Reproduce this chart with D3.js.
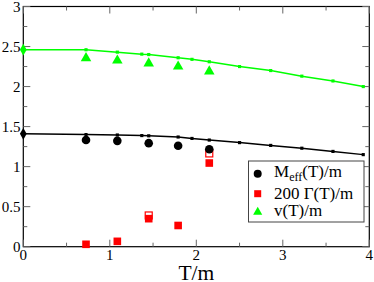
<!DOCTYPE html>
<html><head><meta charset="utf-8">
<script src="https://cdn.jsdelivr.net/npm/d3@7"></script>
<style>body{margin:0;background:#fff}svg{display:block}
text{font-family:"Liberation Serif","Times New Roman","DejaVu Serif",serif}</style>
</head><body>
<script>
// Data
const lineT = [0, 0.725, 1.087, 1.37, 1.45, 1.79, 1.95, 2.15, 2.5, 2.86, 3.22, 3.58, 3.93];
const vLine = [2.46, 2.46, 2.43, 2.405, 2.40, 2.36, 2.34, 2.31, 2.25, 2.20, 2.13, 2.07, 2.00];
const mLine = [1.41, 1.40, 1.395, 1.388, 1.385, 1.37, 1.352, 1.332, 1.30, 1.265, 1.23, 1.19, 1.15];
const pointT = [0.725, 1.087, 1.45, 1.79, 2.15];
const mEff = [1.333, 1.322, 1.293, 1.26, 1.218];
const gamma200 = [0.03, 0.067, 0.35, 0.265, 1.045];
const vT = [2.355, 2.325, 2.29, 2.25, 2.19];
const gammaOpenT = [1.45, 2.15];
const gammaOpen = [0.39, 1.165];
const xTicks = [0, 1, 2, 3, 4];
const yTicks = [0, 0.5, 1, 1.5, 2, 2.5, 3];
const legendLabels = ["M", "200 Γ(T)/m", "v(T)/m"];

const W = 374, H = 282;
const x = d3.scaleLinear().domain([0, 4]).range([23.3, 369.3]);
const y = d3.scaleLinear().domain([0, 3]).range([246.7, 6.5]);
const svg = d3.select("body").append("svg").attr("width", W).attr("height", H);
const green = "#00ff00", red = "#ff0000";

// Frame
svg.append("rect").attr("x", x(0)).attr("y", y(3)).attr("width", x(4) - x(0)).attr("height", y(0) - y(3))
  .attr("fill", "none").attr("stroke", "#000").attr("stroke-width", 1.2);

// Ticks (inward, all four sides)
const tickG = svg.append("g").attr("stroke", "#666").attr("stroke-width", 1);
const xMinor = d3.range(0.5, 4, 1);
const yMinor = d3.range(0.25, 3, 0.5);
xTicks.forEach(t => { [[y(0), -7], [y(3), 7]].forEach(([yy, d]) => tickG.append("line").attr("x1", x(t)).attr("x2", x(t)).attr("y1", yy).attr("y2", yy + d)); });
xMinor.forEach(t => { [[y(0), -4], [y(3), 4]].forEach(([yy, d]) => tickG.append("line").attr("x1", x(t)).attr("x2", x(t)).attr("y1", yy).attr("y2", yy + d)); });
yTicks.forEach(t => { [[x(0), 7], [x(4), -7]].forEach(([xx, d]) => tickG.append("line").attr("y1", y(t)).attr("y2", y(t)).attr("x1", xx).attr("x2", xx + d)); });
yMinor.forEach(t => { [[x(0), 4], [x(4), -4]].forEach(([xx, d]) => tickG.append("line").attr("y1", y(t)).attr("y2", y(t)).attr("x1", xx).attr("x2", xx + d)); });

// Tick labels
svg.append("g").selectAll("text").data(xTicks).join("text")
  .attr("x", d => x(d)).attr("y", 260).attr("text-anchor", "middle")
  .attr("font-size", 15).text(d => d);
svg.append("g").selectAll("text").data(yTicks).join("text")
  .attr("x", 20.5).attr("y", d => y(d) + 5).attr("text-anchor", "end")
  .attr("font-size", 15).text(d => d);

// Axis label
svg.append("text").attr("x", (x(0) + x(4)) / 2).attr("y", 279.5).attr("text-anchor", "middle")
  .attr("font-size", 21.5).text("T/m");

// Lines
const lineGen = vals => d3.line().x((d, i) => x(lineT[i])).y(d => y(d))(vals);
svg.append("path").attr("d", lineGen(vLine)).attr("fill", "none").attr("stroke", green).attr("stroke-width", 1.5);
svg.append("path").attr("d", lineGen(mLine)).attr("fill", "none").attr("stroke", "#000").attr("stroke-width", 1.5);
[[vLine, green], [mLine, "#000"]].forEach(([vals, c]) => {
  svg.append("g").selectAll("path").data(vals.slice(1)).join("path")
    .attr("d", d3.symbol(d3.symbolSquare, 10)())
    .attr("transform", (d, i) => `translate(${x(lineT[i + 1])},${y(d)})`).attr("fill", c);
  svg.append("path").attr("d", d3.symbol(d3.symbolDiamond, 40)())
    .attr("transform", `translate(${x(lineT[0])},${y(vals[0])})`).attr("fill", c);
});

// Open squares
svg.append("g").selectAll("rect").data(gammaOpen).join("rect")
  .attr("x", (d, i) => x(gammaOpenT[i]) - 3.5).attr("y", d => y(d) - 3.5)
  .attr("width", 7).attr("height", 7).attr("fill", "#fff").attr("stroke", red).attr("stroke-width", 1.2);
// Filled squares
svg.append("g").selectAll("rect").data(gamma200).join("rect")
  .attr("x", (d, i) => x(pointT[i]) - 3.8).attr("y", d => y(d) - 3.8)
  .attr("width", 7.6).attr("height", 7.6).attr("fill", red);
// Circles
svg.append("g").selectAll("circle").data(mEff).join("circle")
  .attr("cx", (d, i) => x(pointT[i])).attr("cy", d => y(d)).attr("r", 4.3).attr("fill", "#000");
// Triangles
svg.append("g").selectAll("path").data(vT).join("path")
  .attr("d", d3.symbol(d3.symbolTriangle, 48)())
  .attr("transform", (d, i) => `translate(${x(pointT[i])},${y(d)})`).attr("fill", green);

// Legend
const lg = svg.append("g");
lg.append("rect").attr("x", 248.5).attr("y", 161).attr("width", 115.5).attr("height", 61)
  .attr("fill", "#fff").attr("stroke", "#444").attr("stroke-width", 1);
lg.append("circle").attr("cx", 257.7).attr("cy", 173.7).attr("r", 4).attr("fill", "#000");
lg.append("rect").attr("x", 254.2).attr("y", 190.2).attr("width", 7).attr("height", 7).attr("fill", red);
lg.append("path").attr("d", d3.symbol(d3.symbolTriangle, 36)()).attr("transform", "translate(257.7,212)").attr("fill", green);
const t1 = lg.append("text").attr("x", 274).attr("y", 177).attr("font-size", 17);
t1.append("tspan").text(legendLabels[0]);
t1.append("tspan").attr("font-size", 12).attr("dy", 4).text("eff");
t1.append("tspan").attr("dy", -4).text("(T)/m");
lg.append("text").attr("x", 274).attr("y", 198.5).attr("font-size", 17).text(legendLabels[1]);
lg.append("text").attr("x", 274).attr("y", 216).attr("font-size", 17).text(legendLabels[2]);
</script>
</body></html>
